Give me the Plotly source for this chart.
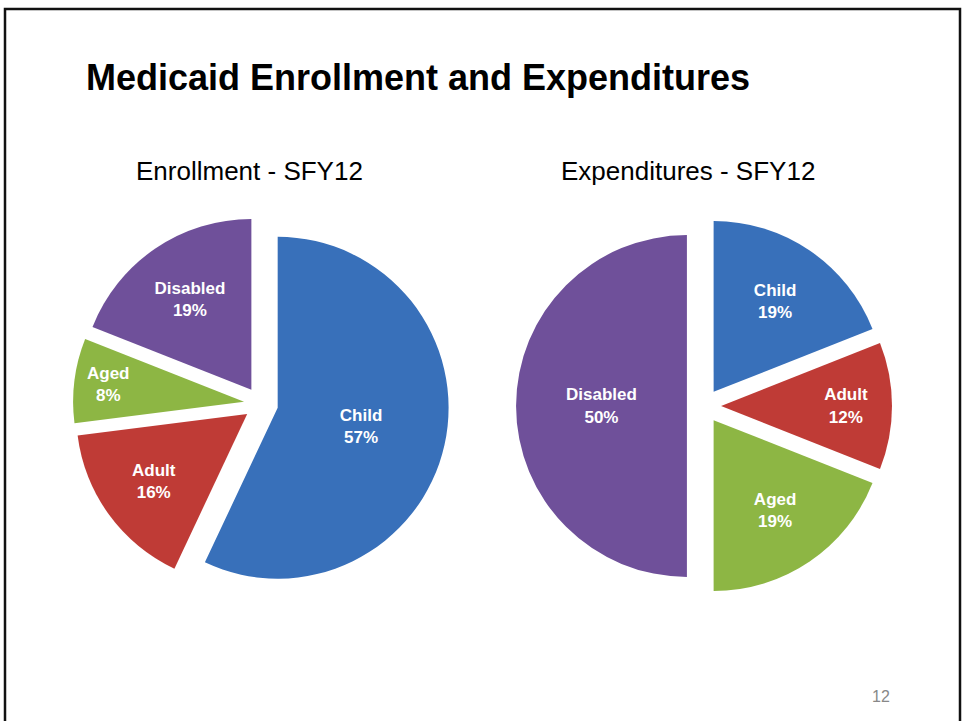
import plotly.graph_objects as go

CATEGORIES = ["Child", "Adult", "Aged", "Disabled"]
ENROLLMENT = [57, 16, 8, 19]
EXPENDITURES = [19, 12, 19, 50]

COLORS = ["#3870BA", "#BF3B36", "#8DB644", "#6F509A"]

W, H = 966, 721


def px_x(x):
    return x / W


def px_y(y):
    return 1 - y / H


def make_pie(values, dom_x, dom_y):
    return go.Pie(
        labels=CATEGORIES,
        values=values,
        sort=False,
        direction="clockwise",
        rotation=0,
        pull=[0.1] * len(values),
        marker=dict(colors=COLORS, line=dict(width=0)),
        texttemplate="<b>%{label}<br>%{percent:.0%}</b>",
        textposition="inside",
        insidetextorientation="horizontal",
        insidetextfont=dict(family="Liberation Sans", size=17, color="white"),
        hoverinfo="label+percent",
        showlegend=False,
        domain=dict(x=dom_x, y=dom_y),
    )


fig = go.Figure()
fig.add_trace(make_pie(ENROLLMENT, [px_x(73), px_x(449)], [px_y(592), px_y(216)]))
fig.add_trace(make_pie(EXPENDITURES, [px_x(516), px_x(892)], [px_y(594), px_y(218)]))

fig.update_layout(
    width=W,
    height=H,
    margin=dict(l=0, r=0, t=0, b=0),
    paper_bgcolor="white",
    font=dict(family="Liberation Sans", color="black"),
    uniformtext=dict(minsize=17, mode="show"),
    shapes=[
        dict(type="rect", xref="paper", yref="paper",
             x0=px_x(5), x1=px_x(960), y0=-0.05, y1=px_y(9),
             line=dict(color="#111111", width=2.5)),
    ],
    annotations=[
        dict(text="<b>Medicaid Enrollment and Expenditures</b>", x=px_x(84), y=px_y(78),
             xref="paper", yref="paper", xanchor="left", yanchor="middle",
             showarrow=False, font=dict(size=36)),
        dict(text="Enrollment - SFY12", x=px_x(249), y=px_y(171),
             xref="paper", yref="paper", xanchor="center", yanchor="middle",
             showarrow=False, font=dict(size=26)),
        dict(text="Expenditures - SFY12", x=px_x(688), y=px_y(171),
             xref="paper", yref="paper", xanchor="center", yanchor="middle",
             showarrow=False, font=dict(size=26)),
        dict(text="12", x=px_x(881), y=px_y(696),
             xref="paper", yref="paper", xanchor="center", yanchor="middle",
             showarrow=False, font=dict(size=16, color="#888888")),
    ],
)

# drop the default body margin and scrollbars so the slide sits at the page origin
fig.write_html("out.html", config={"displayModeBar": False},
               post_script="document.body.style.margin = '0'; document.body.style.overflow = 'hidden';")
